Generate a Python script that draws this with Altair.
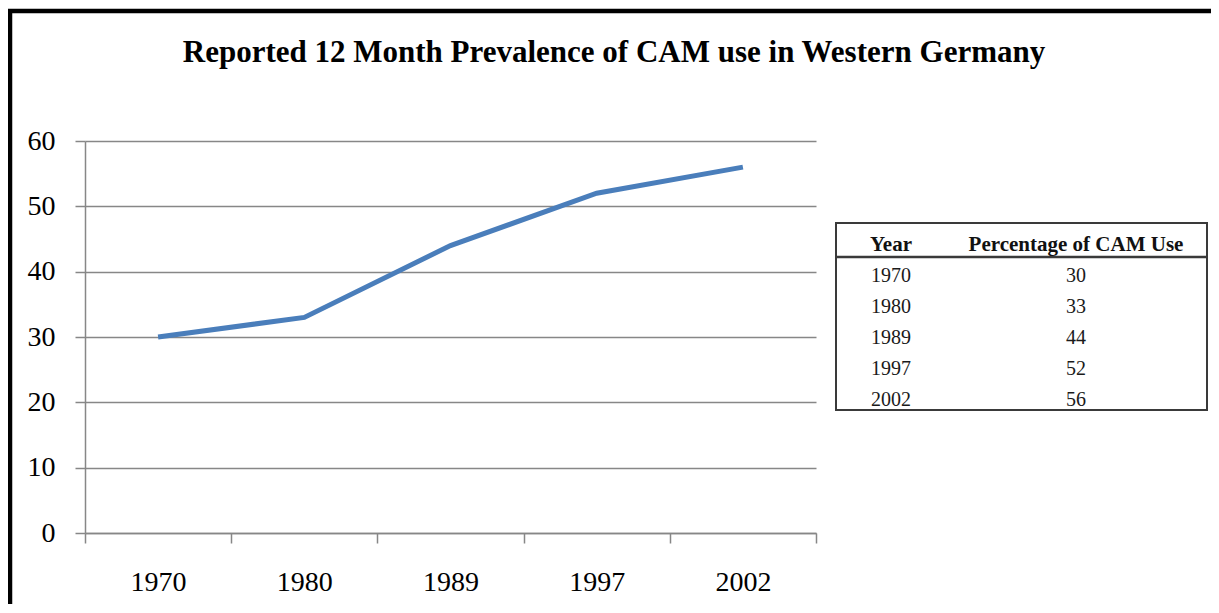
import altair as alt
import pandas as pd

# ---- data ----
years = ["1970", "1980", "1989", "1997", "2002"]
pct = [30, 33, 44, 52, 56]
y_ticks = [0, 10, 20, 30, 40, 50, 60]
title_text = "Reported 12 Month Prevalence of CAM use in Western Germany"
table_cols = ["Year", "Percentage of CAM Use"]

FONT = "Liberation Serif"
GRID = "#878787"
LINE = "#4A7EBB"

df = pd.DataFrame({"year": years, "pct": pct})

# long-format table body
body_rows = []
for yv, pv in zip(years, pct):
    body_rows.append({"row": yv, "col": table_cols[0], "txt": yv})
    body_rows.append({"row": yv, "col": table_cols[1], "txt": str(pv)})
body = pd.DataFrame(body_rows)
header = pd.DataFrame({"row": ["header"] * 2, "col": table_cols, "txt": table_cols})

row_domain = ["header"] + years

line = alt.Chart(df).mark_line(color=LINE, strokeWidth=5).encode(
    x=alt.X("year:N", sort=years, title=None,
            scale=alt.Scale(paddingInner=0, paddingOuter=0),
            axis=alt.Axis(labelAngle=0, labelFont=FONT, labelFontSize=28, labelColor="#000000",
                          ticks=True, tickBand="extent", tickSize=10, tickColor=GRID, tickWidth=1.5,
                          domain=True, domainColor=GRID, domainWidth=1.5, labelPadding=25, grid=False)),
    y=alt.Y("pct:Q", title=None,
            scale=alt.Scale(domain=[0, 60], nice=False),
            axis=alt.Axis(values=y_ticks, labelFont=FONT, labelFontSize=28, labelColor="#000000",
                          ticks=True, tickSize=10, tickColor=GRID, tickWidth=1.5, domain=True,
                          domainColor=GRID, domainWidth=1.5, grid=True,
                          gridColor=GRID, gridWidth=1.5, labelPadding=20)),
)

tx = alt.X("col:N", sort=table_cols, axis=None,
           scale=alt.Scale(type="point", domain=table_cols, range=[806, 991], padding=0))
ty = alt.Y("row:N", sort=row_domain, axis=None,
           scale=alt.Scale(type="point", domain=row_domain, range=[104, 259], padding=0))

head_txt = alt.Chart(header).mark_text(font=FONT, fontSize=21, fontWeight="bold", color="#111111",
                                       baseline="middle").encode(x=tx, y=ty, text="txt:N")
body_txt = alt.Chart(body).mark_text(font=FONT, fontSize=20, color="#1a1a1a",
                                     baseline="middle").encode(x=tx, y=ty, text="txt:N")

one = alt.Data(values=[{"k": 1}])
title_mark = alt.Chart(alt.Data(values=[{"t": title_text}])).mark_text(
    font=FONT, fontSize=31, fontWeight="bold", color="#000000", align="center", baseline="alphabetic"
).encode(x=alt.value(529), y=alt.value(-79), text="t:N")
table_box = alt.Chart(one).mark_rect(fillOpacity=0, stroke="#3a3a3a", strokeWidth=2).encode(
    x=alt.value(751), x2=alt.value(1122), y=alt.value(82), y2=alt.value(269))
table_sep = alt.Chart(one).mark_rule(color="#3a3a3a", strokeWidth=2.5).encode(
    x=alt.value(751), x2=alt.value(1122), y=alt.value(116))
frame = alt.Chart(one).mark_rect(fillOpacity=0, stroke="#000000", strokeWidth=4.5).encode(
    x=alt.value(-75), x2=alt.value(1170), y=alt.value(-130), y2=alt.value(520))

chart = alt.layer(frame, title_mark, line, table_box, table_sep, head_txt, body_txt).resolve_scale(
    x="independent", y="independent"
).properties(
    width=731, height=392,
    background="#ffffff",
    autosize=alt.AutoSizeParams(type="none"),
    padding={"left": 77, "top": 133, "right": 395, "bottom": 71},
).configure_view(stroke="transparent", strokeWidth=0)

chart.save("out.html", embed_options={"renderer": "svg", "actions": False})
